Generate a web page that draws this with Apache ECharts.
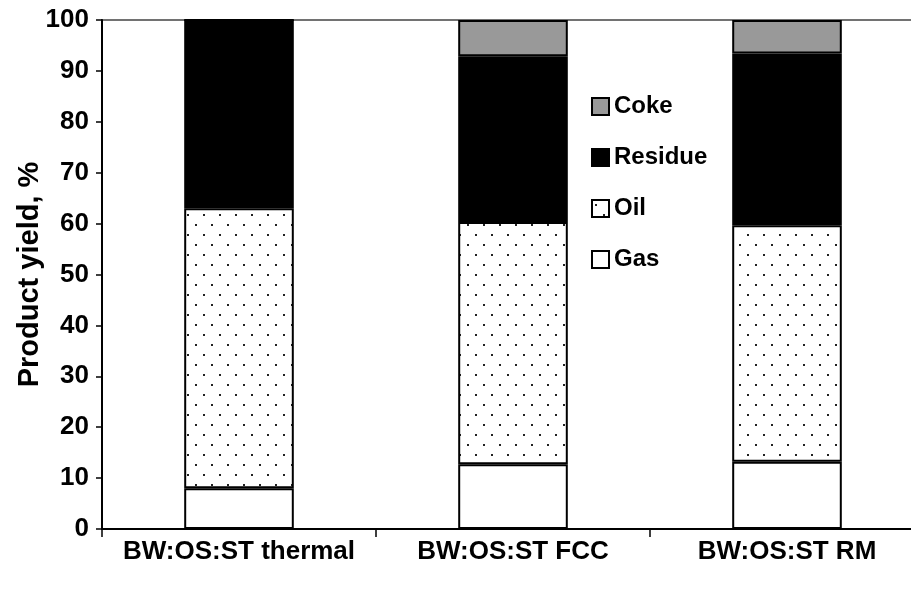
<!DOCTYPE html>
<html>
<head>
<meta charset="utf-8">
<script src="https://cdn.jsdelivr.net/npm/echarts@6/dist/echarts.min.js"></script>
<style>html,body{margin:0;padding:0;background:#fff}#c{width:911px;height:594px}</style>
</head>
<body>
<div id="c"></div>
<script>
const categories = ['BW:OS:ST thermal', 'BW:OS:ST FCC', 'BW:OS:ST RM'];
const gas = [8.0, 12.7, 13.2];
const oil = [55.0, 47.6, 46.5];
const residue = [37.0, 32.6, 33.7];
const coke = [0, 7.1, 6.6];
const legendOrder = ['Coke', 'Residue', 'Oil', 'Gas'];

function dotPattern() {
  const c = document.createElement('canvas');
  c.width = 16; c.height = 20;
  const g = c.getContext('2d');
  g.fillStyle = '#fff'; g.fillRect(0, 0, 16, 20);
  g.fillStyle = '#222';
  g.fillRect(3, 4, 2, 2);
  g.fillRect(11, 14, 2, 2);
  return c;
}

const chart = echarts.init(document.getElementById('c'));
const font = 'Liberation Sans, Arial, sans-serif';
const border = { borderColor: '#000', borderWidth: 2 };
const mk = (name, data, color) => ({
  name, type: 'bar', stack: 'a', data, barWidth: '40%',
  itemStyle: Object.assign({ color }, border),
  emphasis: { disabled: true }
});
chart.setOption({
  animation: false,
  grid: { left: 102, top: 20, bottom: 65, right: -13, outerBoundsMode: 'none', containLabel: false,
          show: true, borderColor: '#444', borderWidth: 1.5 },
  legend: {
    orient: 'vertical', left: 586, top: 89, itemGap: 26, itemWidth: 17, itemHeight: 17,
    icon: 'rect', data: legendOrder,
    textStyle: { fontFamily: font, fontWeight: 'bold', fontSize: 24, color: '#000', lineHeight: 25 }
  },
  xAxis: {
    type: 'category', data: categories,
    axisLine: { lineStyle: { color: '#000', width: 2 } },
    axisTick: { show: true, length: 8, alignWithLabel: false, lineStyle: { color: '#000', width: 1.5 } },
    axisLabel: { interval: 0, fontFamily: font, fontWeight: 'bold', fontSize: 26, color: '#000', margin: 10 }
  },
  yAxis: {
    type: 'value', min: 0, max: 100, interval: 10,
    name: 'Product yield, %', nameLocation: 'middle', nameGap: 58, nameRotate: 90, nameMoveOverlap: false,
    nameTextStyle: { fontFamily: font, fontWeight: 'bold', fontSize: 29, color: '#000' },
    splitLine: { show: false },
    axisLine: { show: true, lineStyle: { color: '#000', width: 2 } },
    axisTick: { show: true, length: 6, lineStyle: { color: '#000', width: 1.5 } },
    axisLabel: { fontFamily: font, fontWeight: 'bold', fontSize: 26, color: '#000', margin: 13 }
  },
  series: [
    mk('Gas', gas, '#fff'),
    mk('Oil', oil, { image: dotPattern(), repeat: 'repeat' }),
    mk('Residue', residue, '#000'),
    mk('Coke', coke, '#999')
  ]
});
</script>
</body>
</html>
